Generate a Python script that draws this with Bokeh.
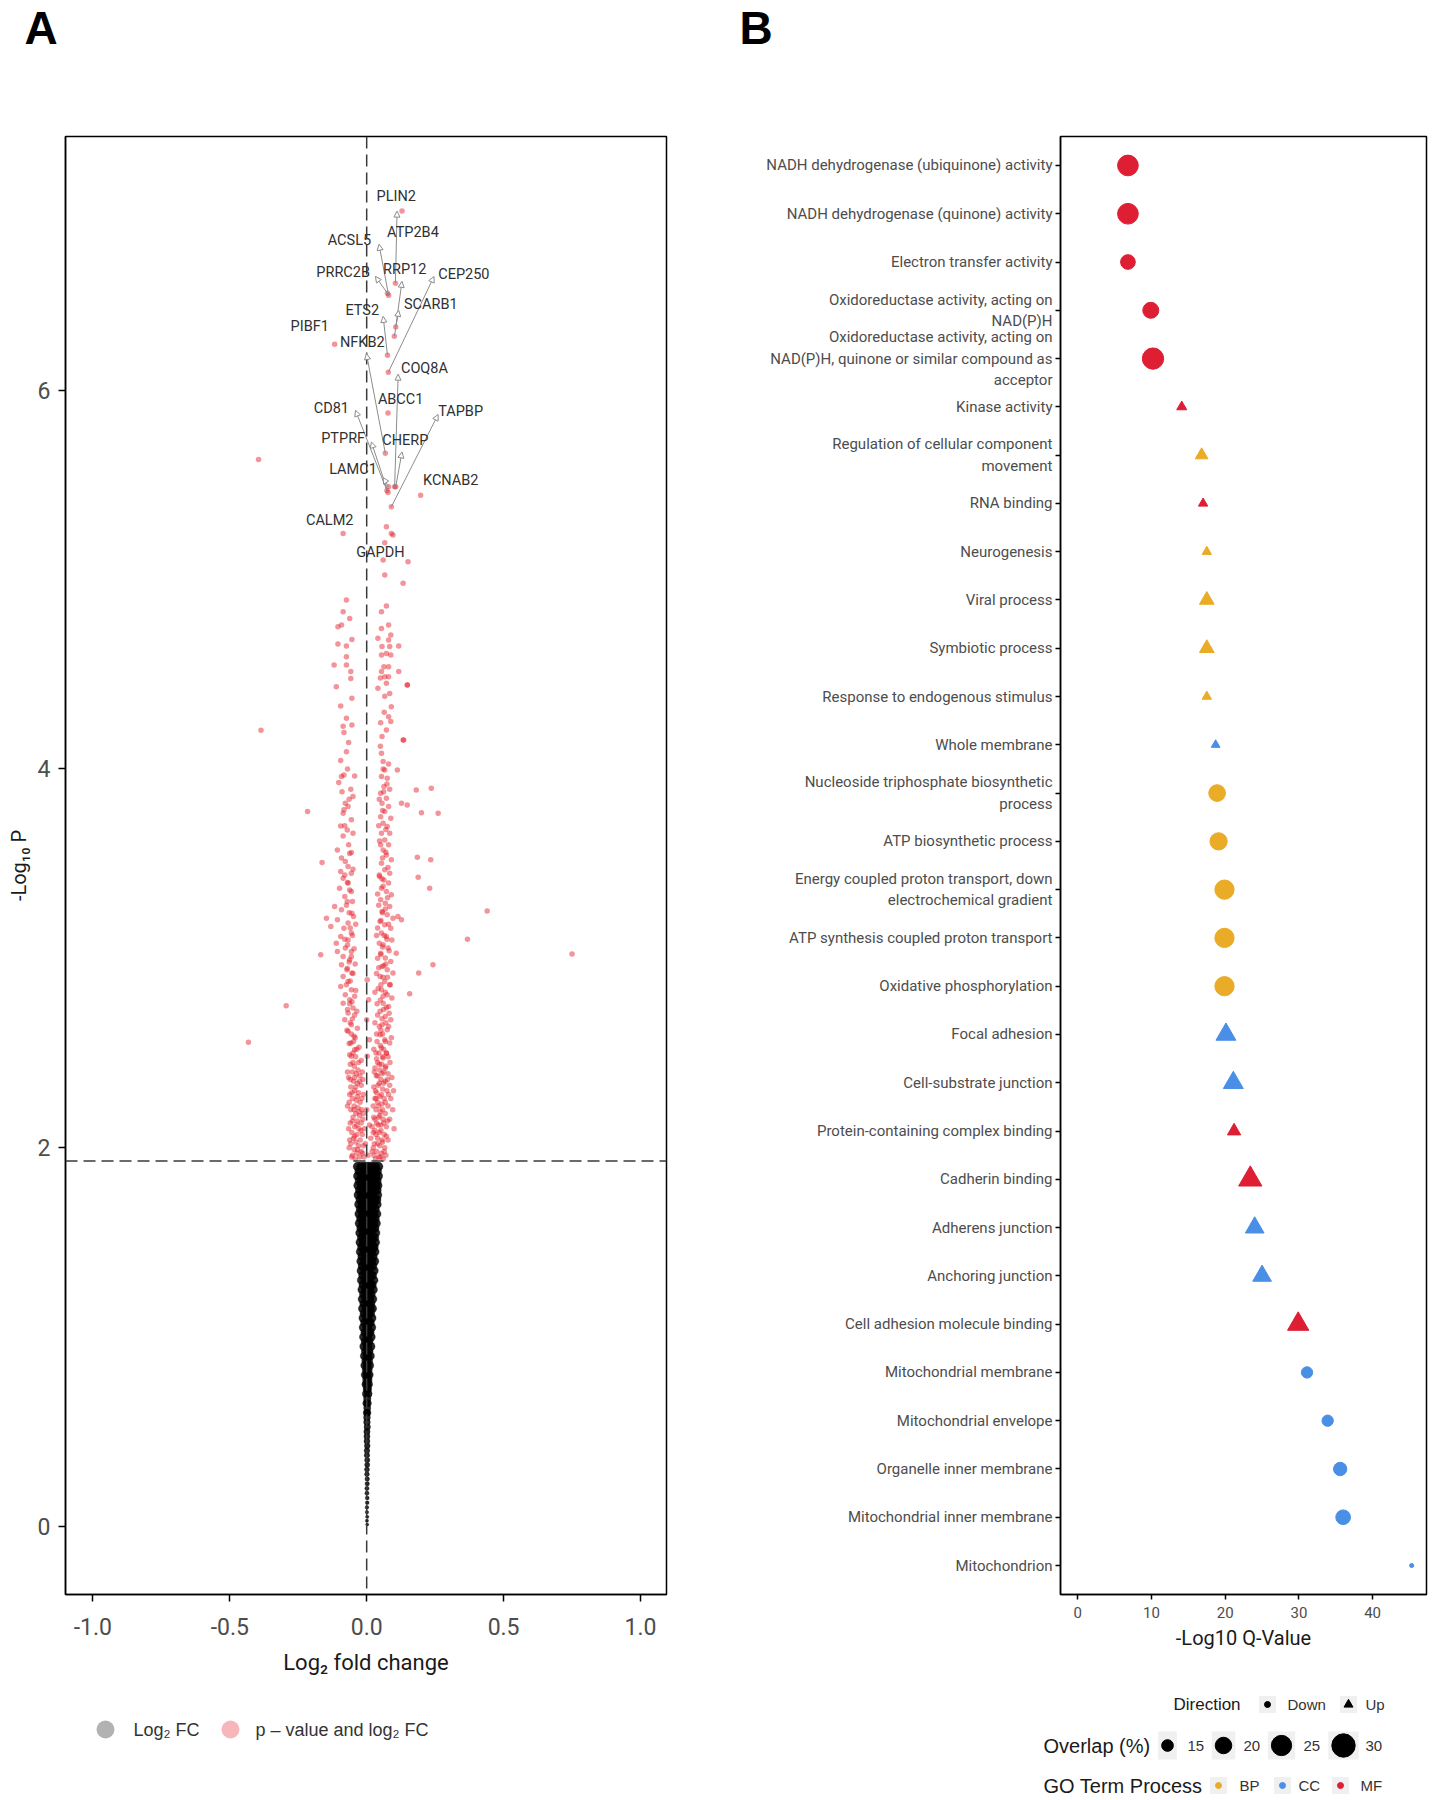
import numpy as np
from bokeh.plotting import figure
from bokeh.models import (Range1d, FactorRange, FixedTicker, NumeralTickFormatter, Span,
                          LabelSet, Arrow, NormalHead, ColumnDataSource)
from bokeh.layouts import row, column
from bokeh.embed import file_html
from bokeh.resources import INLINE
from bokeh.core.properties import value

NARROW = "Roboto"
SANS = "Liberation Sans"

# ------------------------------------------------------------------ Panel A data
p_cut = 1.93          # -log10 P threshold (dashed horizontal line)
fc_cut = 0.0          # dashed vertical line

# non-significant genes (black), listed row by row: (-log10 P, [log2 FC ...])
ns_rows = [
    (1.90, [-0.033, -0.020, -0.007, 0.006, 0.019, 0.031, 0.043]),
    (1.875, [-0.027, -0.013, 0.000, 0.013, 0.026, 0.038]),
    (1.85, [-0.032, -0.019, -0.006, 0.007, 0.020, 0.032, 0.042]),
    (1.825, [-0.026, -0.012, 0.001, 0.014, 0.027, 0.037]),
    (1.80, [-0.031, -0.018, -0.005, 0.008, 0.021, 0.033, 0.040]),
    (1.775, [-0.025, -0.011, 0.002, 0.015, 0.028, 0.037]),
    (1.75, [-0.030, -0.017, -0.004, 0.009, 0.022, 0.039]),
    (1.725, [-0.023, -0.010, 0.003, 0.016, 0.029, 0.036]),
    (1.70, [-0.028, -0.015, -0.002, 0.011, 0.024, 0.037]),
    (1.675, [-0.022, -0.009, 0.004, 0.017, 0.030]),
    (1.65, [-0.027, -0.014, -0.001, 0.012, 0.025, 0.036]),
    (1.625, [-0.021, -0.008, 0.005, 0.018, 0.030]),
    (1.60, [-0.026, -0.013, 0.000, 0.013, 0.025, 0.034]),
    (1.575, [-0.020, -0.007, 0.006, 0.019, 0.029]),
    (1.55, [-0.024, -0.011, 0.002, 0.015, 0.032]),
    (1.525, [-0.018, -0.005, 0.008, 0.020, 0.028]),
    (1.50, [-0.023, -0.010, 0.003, 0.016, 0.031]),
    (1.475, [-0.017, -0.004, 0.009, 0.021, 0.026]),
    (1.45, [-0.022, -0.009, 0.004, 0.017, 0.029]),
    (1.425, [-0.016, -0.003, 0.010, 0.022]),
    (1.40, [-0.020, -0.007, 0.006, 0.018, 0.028]),
    (1.375, [-0.015, -0.002, 0.011, 0.021]),
    (1.35, [-0.019, -0.006, 0.007, 0.026]),
    (1.325, [-0.013, 0.000, 0.013, 0.020]),
    (1.30, [-0.018, -0.005, 0.008, 0.025]),
    (1.275, [-0.012, 0.001, 0.014, 0.019]),
    (1.25, [-0.016, -0.003, 0.010, 0.023]),
    (1.225, [-0.010, 0.003, 0.015]),
    (1.20, [-0.015, -0.002, 0.010, 0.021]),
    (1.175, [-0.009, 0.004, 0.014]),
    (1.15, [-0.014, 0.000, 0.012, 0.020]),
    (1.125, [-0.008, 0.005, 0.013]),
    (1.10, [-0.012, 0.001, 0.018]),
    (1.075, [-0.006, 0.006, 0.012]),
    (1.05, [-0.011, 0.002, 0.017]),
    (1.025, [-0.005, 0.006, 0.011]),
    (1.00, [-0.010, 0.003, 0.015]),
    (0.975, [-0.004, 0.007]),
    (0.95, [-0.009, 0.003, 0.014]),
    (0.925, [-0.003, 0.007]),
    (0.90, [-0.007, 0.003, 0.012]),
    (0.875, [-0.002, 0.006]),
    (0.85, [-0.006, 0.002, 0.010]),
    (0.825, [-0.001, 0.005]),
    (0.80, [-0.005, 0.002, 0.009]),
    (0.775, [0.000, 0.005]),
    (0.75, [-0.003, 0.002, 0.007]),
    (0.725, [0.001, 0.004]),
    (0.70, [-0.002, 0.006]),
    (0.675, [0.002]),
    (0.65, [-0.001, 0.004]),
    (0.625, [0.002]),
    (0.60, [0.000, 0.003]),
    (0.575, [0.001]), (0.55, [0.001]), (0.525, [0.002]), (0.50, [0.001]),
    (0.475, [0.001]), (0.45, [0.001]), (0.425, [0.002]), (0.40, [0.001]),
    (0.375, [0.001]), (0.35, [0.002]), (0.325, [0.002]), (0.30, [0.001]),
    (0.275, [0.001]), (0.25, [0.002]), (0.225, [0.002]), (0.20, [0.001]),
    (0.175, [0.001]), (0.15, [0.002]), (0.125, [0.002]), (0.10, [0.001]),
    (0.075, [0.001]), (0.05, [0.002]), (0.03, [0.001]), (0.01, [0.002]),
]
ns_fc = [x for y, xs in ns_rows for x in xs]
ns_p = [y for y, xs in ns_rows for x in xs]

# significant genes (red): (log2 FC, -log10 P)
sig_points = [
    # upper cloud, left
    (-0.074, 4.892), (-0.086, 4.830), (-0.062, 4.795), (-0.105, 4.751), (-0.092, 4.760),
    (-0.054, 4.684), (-0.105, 4.660), (-0.074, 4.649), (-0.074, 4.593), (-0.119, 4.549),
    (-0.074, 4.549), (-0.058, 4.514), (-0.058, 4.478), (-0.111, 4.434), (-0.054, 4.373),
    (-0.095, 4.333), (-0.074, 4.267), (-0.086, 4.226), (-0.054, 4.232), (-0.083, 4.192),
    (-0.066, 4.139),
    # upper cloud, right
    (0.066, 5.024), (0.072, 4.860), (0.054, 4.830), (0.080, 4.760), (0.054, 4.742),
    (0.088, 4.707), (0.041, 4.690), (0.080, 4.681), (0.056, 4.646), (0.084, 4.646),
    (0.117, 4.649), (0.072, 4.610), (0.054, 4.602), (0.088, 4.602), (0.063, 4.540),
    (0.080, 4.540), (0.054, 4.514), (0.117, 4.514), (0.066, 4.487), (0.080, 4.487),
    (0.072, 4.452), (0.148, 4.443), (0.041, 4.426), (0.084, 4.399), (0.066, 4.384),
    (0.090, 4.329), (0.080, 4.276), (0.051, 4.244), (0.088, 4.250), (0.072, 4.206),
    (0.056, 4.171), (0.133, 4.153), (0.133, 4.980),
    # middle, left
    (-0.074, 4.091), (-0.095, 4.044), (-0.083, 3.968), (-0.092, 3.960), (-0.044, 3.963),
    (-0.102, 3.928), (-0.058, 3.893), (-0.050, 3.854), (-0.078, 3.819), (-0.083, 3.784),
    (-0.068, 3.801), (-0.086, 3.766), (-0.056, 3.731), (-0.095, 3.699), (-0.071, 3.678),
    (-0.050, 3.660), (-0.086, 3.646), (-0.107, 3.572), (-0.062, 3.554), (-0.056, 3.558),
    (-0.092, 3.529), (-0.078, 3.511), (-0.068, 3.485), (-0.095, 3.458), (-0.056, 3.449),
    # middle, right
    (0.054, 4.083), (0.060, 4.039), (0.080, 4.026), (0.066, 3.995), (0.112, 3.995),
    (0.054, 3.960), (0.075, 3.951), (0.063, 3.907), (0.084, 3.893), (0.051, 3.872),
    (0.072, 3.845), (0.056, 3.819), (0.080, 3.801), (0.066, 3.775), (0.051, 3.748),
    (0.088, 3.740), (0.060, 3.713), (0.075, 3.696), (0.054, 3.660), (0.084, 3.660),
    (0.066, 3.625), (0.051, 3.599), (0.080, 3.599), (0.060, 3.572), (0.072, 3.546),
    (0.090, 3.520), (0.054, 3.502), (0.066, 3.467), (0.084, 3.449), (0.148, 3.810),
    (0.127, 3.819),
    # lower, left
    (-0.086, 3.423), (-0.068, 3.397), (-0.099, 3.370), (-0.056, 3.353), (-0.080, 3.326),
    (-0.117, 3.274), (-0.071, 3.300), (-0.092, 3.256), (-0.054, 3.238), (-0.147, 3.212),
    (-0.107, 3.203), (-0.068, 3.186), (-0.131, 3.168), (-0.083, 3.159), (-0.056, 3.133),
    (-0.095, 3.115), (-0.068, 3.097), (-0.111, 3.080), (-0.078, 3.054), (-0.056, 3.036),
    (-0.107, 3.036), (-0.086, 3.010), (-0.062, 2.992), (-0.092, 2.966), (-0.071, 2.948),
    (-0.054, 2.922), (-0.086, 2.904), (-0.068, 2.878), (-0.095, 2.851), (-0.056, 2.834),
    (-0.078, 2.807), (-0.062, 2.781), (-0.086, 2.763), (-0.050, 2.737), (-0.068, 2.711),
    (-0.080, 2.675), (-0.056, 2.649), (-0.068, 2.614), (-0.046, 2.588), (-0.058, 2.553),
    (-0.044, 2.517), (-0.056, 2.482),
    (-0.050, 2.50), (-0.036, 2.52), (-0.064, 2.55), (-0.042, 2.58), (-0.072, 2.62),
    (-0.052, 2.68), (-0.036, 2.72), (-0.062, 2.76), (-0.044, 2.80), (-0.074, 2.86),
    (-0.050, 2.92), (-0.064, 2.98), (-0.046, 3.05), (-0.080, 3.10), (-0.060, 3.16),
    (-0.048, 3.22), (-0.074, 3.28), (-0.062, 3.36), (-0.080, 3.44), (-0.066, 3.60),
    (-0.080, 3.70), (-0.064, 3.84), (-0.090, 3.88), (-0.070, 4.00),
    (-0.028, 2.53), (-0.048, 2.56), (-0.056, 2.60), (-0.034, 2.63), (-0.060, 2.66),
    (-0.044, 2.70), (-0.070, 2.73), (-0.054, 2.77), (-0.040, 2.83), (-0.060, 2.88),
    (-0.072, 2.94), (-0.042, 2.97), (-0.056, 3.01), (-0.070, 3.07), (-0.052, 3.12),
    (-0.040, 3.18), (-0.064, 3.24), (-0.052, 3.30), (-0.070, 3.40), (-0.050, 3.47),
    # lower, right
    (0.047, 3.432), (0.063, 3.414), (0.080, 3.397), (0.054, 3.370), (0.072, 3.353),
    (0.090, 3.335), (0.051, 3.309), (0.068, 3.291), (0.084, 3.274), (0.056, 3.247),
    (0.075, 3.230), (0.096, 3.212), (0.049, 3.194), (0.066, 3.177), (0.088, 3.159),
    (0.114, 3.221), (0.127, 3.203), (0.054, 3.133), (0.072, 3.115), (0.092, 3.097),
    (0.060, 3.071), (0.078, 3.054), (0.051, 3.027), (0.108, 3.027), (0.068, 3.001),
    (0.088, 2.983), (0.056, 2.957), (0.075, 2.939), (0.096, 2.922), (0.049, 2.904),
    (0.066, 2.878), (0.084, 2.860), (0.054, 2.834), (0.075, 2.807), (0.092, 2.790),
    (0.060, 2.763), (0.080, 2.746), (0.049, 2.720), (0.068, 2.693), (0.088, 2.675),
    (0.056, 2.649), (0.075, 2.623), (0.049, 2.596), (0.066, 2.570), (0.084, 2.553),
    (0.054, 2.526), (0.072, 2.499), (0.060, 2.473),
    (0.045, 2.50), (0.062, 2.52), (0.078, 2.48), (0.038, 2.56), (0.058, 2.60),
    (0.090, 2.58), (0.046, 2.64), (0.070, 2.66), (0.040, 2.70), (0.062, 2.73),
    (0.082, 2.71), (0.050, 2.78), (0.068, 2.82), (0.042, 2.84), (0.086, 2.86),
    (0.060, 2.90), (0.044, 2.95), (0.070, 2.97), (0.052, 3.02), (0.082, 3.04),
    (0.046, 3.08), (0.064, 3.12), (0.040, 3.16), (0.080, 3.18), (0.058, 3.24),
    (0.044, 3.28), (0.076, 3.32), (0.060, 3.38), (0.046, 3.44), (0.078, 3.48),
    (0.058, 3.53), (0.047, 3.62), (0.070, 3.68), (0.058, 3.78), (0.046, 3.84),
    (0.074, 3.92), (0.060, 4.00), (0.050, 4.12), (0.064, 4.30), (0.050, 4.48),
    (0.072, 2.50), (0.026, 2.52), (0.050, 2.54), (0.068, 2.56), (0.036, 2.60),
    (0.052, 2.62), (0.080, 2.64), (0.030, 2.66), (0.056, 2.68), (0.072, 2.74),
    (0.038, 2.76), (0.060, 2.80), (0.030, 2.82), (0.052, 2.86), (0.076, 2.90),
    (0.036, 2.92), (0.062, 2.96), (0.040, 3.00), (0.058, 3.06), (0.074, 3.10),
    (0.036, 3.12), (0.052, 3.20), (0.068, 3.26), (0.040, 3.34), (0.056, 3.42),
    (0.070, 3.56), (0.044, 3.70), (0.062, 3.88),
    (0.002, 2.887), (0.007, 2.781), (0.000, 2.675), (0.010, 2.570), (0.002, 2.482),
    # dense band just above the threshold, left lobe
    (-0.060, 2.44), (-0.045, 2.43), (-0.030, 2.45), (-0.052, 2.40), (-0.038, 2.39),
    (-0.066, 2.37), (-0.025, 2.38), (-0.048, 2.35), (-0.034, 2.34), (-0.058, 2.32),
    (-0.020, 2.33), (-0.044, 2.30), (-0.030, 2.29), (-0.062, 2.28), (-0.052, 2.26),
    (-0.038, 2.25), (-0.024, 2.24), (-0.046, 2.22), (-0.032, 2.21), (-0.058, 2.20),
    (-0.018, 2.20), (-0.040, 2.18), (-0.026, 2.17), (-0.050, 2.16), (-0.034, 2.14),
    (-0.060, 2.13), (-0.020, 2.13), (-0.044, 2.11), (-0.028, 2.10), (-0.054, 2.08),
    (-0.036, 2.07), (-0.016, 2.07), (-0.048, 2.05), (-0.024, 2.04), (-0.040, 2.03),
    (-0.058, 2.02), (-0.030, 2.01), (-0.012, 2.01), (-0.046, 1.99), (-0.020, 1.98),
    (-0.036, 1.97), (-0.052, 1.96), (-0.026, 1.95), (-0.010, 1.95), (-0.042, 1.94),
    (-0.070, 2.22), (-0.066, 2.10), (-0.064, 2.00), (-0.014, 2.15), (-0.012, 2.28),
    (-0.016, 2.40), (-0.008, 2.10), (-0.070, 2.40),
    (-0.055, 1.95), (-0.033, 1.99), (-0.015, 1.97), (-0.062, 2.04), (-0.044, 2.06),
    (-0.021, 2.09), (-0.036, 2.12), (-0.052, 2.14), (-0.012, 2.18), (-0.028, 2.19),
    (-0.046, 2.20), (-0.064, 2.24), (-0.034, 2.27), (-0.018, 2.26), (-0.054, 2.29),
    (-0.040, 2.32), (-0.026, 2.35), (-0.060, 2.36), (-0.044, 2.37), (-0.014, 2.36),
    (-0.032, 2.41), (-0.050, 2.45), (-0.020, 2.46), (-0.040, 2.48), (-0.062, 2.49),
    # dense band, right lobe
    (0.040, 2.45), (0.055, 2.44), (0.070, 2.43), (0.085, 2.45), (0.048, 2.41),
    (0.062, 2.40), (0.078, 2.39), (0.035, 2.38), (0.092, 2.37), (0.052, 2.36),
    (0.068, 2.35), (0.042, 2.33), (0.084, 2.33), (0.058, 2.31), (0.074, 2.30),
    (0.036, 2.29), (0.048, 2.27), (0.064, 2.26), (0.088, 2.26), (0.040, 2.24),
    (0.056, 2.23), (0.078, 2.22), (0.034, 2.20), (0.050, 2.19), (0.068, 2.18),
    (0.044, 2.16), (0.060, 2.15), (0.084, 2.15), (0.036, 2.13), (0.052, 2.12),
    (0.072, 2.11), (0.030, 2.09), (0.046, 2.08), (0.064, 2.07), (0.040, 2.05),
    (0.056, 2.04), (0.078, 2.04), (0.028, 2.02), (0.048, 2.01), (0.066, 2.00),
    (0.036, 1.98), (0.054, 1.97), (0.026, 1.96), (0.044, 1.95), (0.060, 1.94),
    (0.070, 1.96), (0.020, 1.98), (0.015, 2.05), (0.010, 2.12), (-0.005, 2.02),
    (0.000, 2.20), (0.005, 1.96),
    (0.030, 2.42), (0.032, 2.30), (0.026, 2.16), (0.024, 2.08), (0.030, 2.26),
    (0.095, 2.20), (0.098, 2.30), (0.100, 2.10), (0.034, 2.50),
    (0.032, 1.94), (0.050, 1.95), (0.064, 1.98), (0.024, 2.00), (0.040, 2.02),
    (0.058, 2.03), (0.072, 2.06), (0.034, 2.07), (0.052, 2.09), (0.020, 2.11),
    (0.042, 2.12), (0.062, 2.13), (0.076, 2.14), (0.030, 2.15), (0.048, 2.17),
    (0.058, 2.20), (0.024, 2.22), (0.044, 2.22), (0.068, 2.24), (0.080, 2.28),
    (0.034, 2.26), (0.054, 2.28), (0.026, 2.32), (0.046, 2.34), (0.062, 2.34),
    (0.076, 2.36), (0.040, 2.38), (0.056, 2.39), (0.028, 2.40), (0.068, 2.42),
    (0.046, 2.44), (0.036, 2.47), (0.058, 2.48),
    # near GAPDH
    (0.072, 5.279), (0.090, 5.244), (0.096, 5.235), (0.060, 5.103), (0.151, 5.094),
    # outliers
    (-0.395, 5.634), (-0.386, 4.204), (0.750, 3.022), (0.440, 3.250), (0.368, 3.100),
    (-0.432, 2.556), (-0.294, 2.749), (-0.216, 3.775), (0.261, 3.766), (0.236, 3.898),
    (0.181, 3.889), (0.200, 3.769), (-0.163, 3.506), (0.185, 3.534), (0.234, 3.520),
    (0.188, 3.428), (0.230, 3.370), (-0.168, 3.018), (0.242, 2.966), (0.190, 2.922),
    (0.157, 2.813), (0.149, 4.443), (0.135, 4.153),
]

# labelled genes: name, log2 FC, -log10 P
genes = ["PLIN2", "ATP2B4", "ACSL5", "PRRC2B", "RRP12", "CEP250", "SCARB1", "ETS2", "PIBF1",
         "NFKB2", "COQ8A", "ABCC1", "CD81", "TAPBP", "PTPRF", "CHERP", "LAMC1", "KCNAB2",
         "CALM2", "GAPDH"]
gene_fc = [0.105, 0.129, 0.080, 0.076, 0.106, 0.079, 0.101, 0.076, -0.117, 0.068, 0.102,
           0.078, 0.074, 0.090, 0.078, 0.106, 0.080, 0.197, -0.086, 0.066]
gene_p = [6.565, 6.946, 6.502, 6.512, 6.334, 6.095, 6.285, 6.185, 6.243, 5.667, 5.490,
          5.880, 5.470, 5.384, 5.460, 5.490, 5.490, 5.446, 5.244, 5.194]
# repelled label placement (text centre) and connector end (None = no connector)
label_xy = [(0.108, 7.024), (0.169, 6.835), (-0.063, 6.792), (-0.086, 6.624), (0.139, 6.637),
            (0.355, 6.612), (0.234, 6.454), (-0.016, 6.422), (-0.208, 6.334), (-0.016, 6.252),
            (0.211, 6.116), (0.124, 5.951), (-0.129, 5.903), (0.343, 5.886), (-0.086, 5.745),
            (0.141, 5.736), (-0.050, 5.582), (0.307, 5.525), (-0.135, 5.314), (0.050, 5.141)]
connector_tip = [(0.111, 6.946), None, (0.045, 6.771), (0.032, 6.601), (0.129, 6.575),
                 (0.246, 6.601), (0.117, 6.422), (0.060, 6.390), None, (-0.001, 6.194),
                 (0.115, 6.085), None, (-0.041, 5.894), (0.261, 5.872), (0.017, 5.727),
                 (0.129, 5.674), (0.060, 5.539), None, None, None]

# ------------------------------------------------------------------ Panel B data
terms = [
    "NADH dehydrogenase (ubiquinone) activity",
    "NADH dehydrogenase (quinone) activity",
    "Electron transfer activity",
    "Oxidoreductase activity, acting on\nNAD(P)H",
    "Oxidoreductase activity, acting on\nNAD(P)H, quinone or similar compound as\nacceptor",
    "Kinase activity",
    "Regulation of cellular component\nmovement",
    "RNA binding",
    "Neurogenesis",
    "Viral process",
    "Symbiotic process",
    "Response to endogenous stimulus",
    "Whole membrane",
    "Nucleoside triphosphate biosynthetic\nprocess",
    "ATP biosynthetic process",
    "Energy coupled proton transport, down\nelectrochemical gradient",
    "ATP synthesis coupled proton transport",
    "Oxidative phosphorylation",
    "Focal adhesion",
    "Cell-substrate junction",
    "Protein-containing complex binding",
    "Cadherin binding",
    "Adherens junction",
    "Anchoring junction",
    "Cell adhesion molecule binding",
    "Mitochondrial membrane",
    "Mitochondrial envelope",
    "Organelle inner membrane",
    "Mitochondrial inner membrane",
    "Mitochondrion",
]
neg_log10_q = [6.8, 6.8, 6.8, 9.9, 10.2, 14.1, 16.8, 17.0, 17.5, 17.5, 17.5, 17.5, 18.7, 18.9,
               19.1, 19.9, 19.9, 19.9, 20.1, 21.1, 21.2, 23.4, 24.0, 25.0, 29.9, 31.1, 33.9,
               35.6, 36.0, 45.3]
overlap_pct = [25.7, 25.7, 17.9, 19.4, 26.6, 13.7, 15.9, 13.2, 13.2, 17.9, 17.9, 13.2, 12.8,
               20.2, 20.9, 23.6, 23.6, 23.6, 24.6, 24.6, 16.5, 29.8, 22.8, 22.8, 26.6, 14.7,
               14.7, 16.5, 17.9, 10.6]
direction = ["Down"] * 5 + ["Up"] * 8 + ["Down"] * 5 + ["Up"] * 7 + ["Down"] * 5
go_process = ["MF"] * 6 + ["BP", "MF", "BP", "BP", "BP", "BP", "CC"] + ["BP"] * 5 + \
             ["CC", "CC", "MF", "MF", "CC", "CC", "MF"] + ["CC"] * 5
overlap_breaks = [15, 20, 25, 30]
direction_levels = ["Down", "Up"]
process_levels = ["BP", "CC", "MF"]

# ------------------------------------------------------------------ styles
process_color = {"BP": "#EAAB26", "CC": "#4A8FE6", "MF": "#DD1E33"}
direction_marker = {"Down": "circle", "Up": "triangle"}


def overlap_size(ov):
    return 5.23 * np.sqrt(max(ov - 10.0, 0.4))


def blank_canvas(w, h):
    f = figure(width=w, height=h, x_range=Range1d(0, w), y_range=Range1d(h, 0),
               x_axis_type=None, y_axis_type=None, output_backend="svg",
               toolbar_location=None, min_border=0, outline_line_color=None)
    f.grid.visible = False
    f.background_fill_color = "white"
    f.border_fill_color = "white"
    return f


def style_axes(p, tick_font_px, label_font_px, font):
    for ax in (p.xaxis[0], p.yaxis[0]):
        ax.major_label_text_font = font
        ax.major_label_text_font_size = f"{tick_font_px}px"
        ax.major_label_text_color = "#4d4d4d"
        ax.axis_label_text_font = font
        ax.axis_label_text_font_size = f"{label_font_px}px"
        ax.axis_label_text_font_style = "normal"
        ax.axis_label_text_color = "#1a1a1a"
        ax.major_tick_in = 0
        ax.major_tick_out = 7
        ax.major_tick_line_color = "black"
        ax.major_tick_line_width = 1.5
        ax.minor_tick_line_color = None
        ax.axis_line_color = "black"
        ax.axis_line_width = 1.5


# ------------------------------------------------------------------ header (panel letters)
head = blank_canvas(1432, 60)
head.text([24, 739], [1, 1], text=["A", "B"], text_baseline="top", text_align="left",
          text_font=value(SANS), text_font_size="46px", text_font_style="bold",
          text_color="black")

# ------------------------------------------------------------------ Panel A
pA = figure(width=708, height=1628, x_range=Range1d(-1.1, 1.095), y_range=Range1d(-0.36, 7.34),
            output_backend="svg", toolbar_location=None,
            min_border_left=65, min_border_right=42, min_border_top=76, min_border_bottom=92)
pA.grid.visible = False
pA.outline_line_color = "black"
pA.outline_line_width = 1.5
pA.background_fill_color = "white"
pA.border_fill_color = "white"
style_axes(pA, 23, 22, NARROW)
pA.xaxis.ticker = FixedTicker(ticks=[-1.0, -0.5, 0.0, 0.5, 1.0])
pA.xaxis.formatter = NumeralTickFormatter(format="0.0")
pA.yaxis.ticker = FixedTicker(ticks=[0, 2, 4, 6])
pA.xaxis.axis_label = "Log₂ fold change"
pA.yaxis.axis_label = "-Log₁₀ P"
pA.xaxis.major_label_standoff = 16
pA.xaxis.axis_label_standoff = 12
pA.yaxis.major_label_standoff = 8
pA.yaxis.axis_label_standoff = 4
pA.yaxis.axis_label_text_font_size = "20px"

ns_size = [3.0 + 6.0 * min(1.0, y / 0.9) for y in ns_p]
pA.scatter(ns_fc, ns_p, size=ns_size, fill_color="black", fill_alpha=0.85,
           line_color="black", line_alpha=0.6, line_width=0.5)
sig_fc = [pt[0] for pt in sig_points] + gene_fc
sig_p = [pt[1] for pt in sig_points] + gene_p
pA.scatter(sig_fc, sig_p, size=5.5, fill_color="#E3121C", fill_alpha=0.45, line_color=None)

pA.add_layout(Span(location=fc_cut, dimension="height", line_dash="12 6",
                   line_color="#3a3a3a", line_width=1.5))
pA.add_layout(Span(location=p_cut, dimension="width", line_dash="12 6",
                   line_color="#3a3a3a", line_width=1.5))

conn = [(fc, pv, tip) for fc, pv, tip in zip(gene_fc, gene_p, connector_tip) if tip is not None]
arrow_src = ColumnDataSource(dict(
    xs=[c[0] for c in conn], ys=[c[1] for c in conn],
    xe=[c[2][0] for c in conn], ye=[c[2][1] for c in conn]))
pA.add_layout(Arrow(x_start="xs", y_start="ys", x_end="xe", y_end="ye", source=arrow_src,
                    line_color="#8c8c8c", line_width=1,
                    end=NormalHead(size=6, fill_color="white", line_color="#8c8c8c", line_width=1)))
lab_src = ColumnDataSource(dict(x=[l[0] for l in label_xy], y=[l[1] for l in label_xy], t=genes))
pA.add_layout(LabelSet(x="x", y="y", text="t", source=lab_src, text_align="center",
                       text_baseline="middle", text_font=value(NARROW),
                       text_font_size="14.5px", text_color="#303030"))

# ------------------------------------------------------------------ Panel B
srcB = ColumnDataSource(dict(
    term=terms, q=neg_log10_q, ov=overlap_pct,
    size=[overlap_size(o) for o in overlap_pct],
    marker=[direction_marker[d] for d in direction],
    color=[process_color[g] for g in go_process]))

pB = figure(width=724, height=1628, x_range=Range1d(-2.35, 47.31),
            y_range=FactorRange(factors=list(reversed(terms)), range_padding=0.2 / 30,
                                range_padding_units="percent"),
            output_backend="svg", toolbar_location=None,
            min_border_left=352, min_border_right=6, min_border_top=70, min_border_bottom=94)
pB.grid.visible = False
pB.outline_line_color = "black"
pB.outline_line_width = 1.5
pB.background_fill_color = "white"
pB.border_fill_color = "white"
style_axes(pB, 15, 20, NARROW)
pB.yaxis.major_label_text_font_size = "15px"
pB.yaxis.major_tick_out = 5
pB.yaxis.major_label_standoff = 3
pB.xaxis.ticker = FixedTicker(ticks=[0, 10, 20, 30, 40])
pB.xaxis.axis_label = "-Log10 Q-Value"
pB.xaxis.major_tick_out = 5
pB.xaxis.major_label_standoff = 7
pB.xaxis.axis_label_standoff = 5
pB.scatter(x="q", y="term", size="size", marker="marker", fill_color="color",
           line_color="color", source=srcB)

# ------------------------------------------------------------------ legends
legA = blank_canvas(708, 112)
legA.scatter([105, 230], [41, 41], size=18, fill_color=["black", "#E3121C"],
             fill_alpha=[0.3, 0.3], line_color=None)
legA.text([133, 255], [41, 41], text=["Log₂ FC", "p – value and log₂ FC"],
          text_baseline="middle", text_align="left", text_font=value(SANS),
          text_font_size="18px", text_color="#333333")

legB = blank_canvas(724, 112)
legB.text([465, 335, 335], [16, 57, 97], text=["Direction", "Overlap (%)", "GO Term Process"],
          text_baseline="middle", text_align="left", text_font=value(SANS),
          text_font_size=["17px", "20px", "20px"], text_color="#1a1a1a")
dir_x = [559, 640]
legB.rect(dir_x, [16, 16], width=17, height=17, fill_color="#f0f0f0", line_color=None)
legB.scatter(dir_x, [16, 16], size=[6, 9], marker=[direction_marker[d] for d in direction_levels],
             fill_color="black", line_color="black")
legB.text([579, 657], [16, 16], text=direction_levels, text_baseline="middle",
          text_font=value(SANS), text_font_size="15px", text_color="#333333")
ov_x = [459, 515, 573, 635]
ov_sizes = [overlap_size(b) for b in overlap_breaks]
legB.rect(ov_x, [57] * 4, width=[s + 7 for s in ov_sizes], height=28,
          fill_color="#f0f0f0", line_color=None)
legB.scatter(ov_x, [57] * 4, size=ov_sizes, fill_color="black", line_color="black")
legB.text([479, 535, 595, 657], [57] * 4, text=[str(b) for b in overlap_breaks],
          text_baseline="middle", text_font=value(SANS), text_font_size="15px",
          text_color="#333333")
go_x = [510, 574, 632]
legB.rect(go_x, [97] * 3, width=17, height=17, fill_color="#f0f0f0", line_color=None)
legB.scatter(go_x, [97] * 3, size=6, fill_color=[process_color[g] for g in process_levels],
             line_color=[process_color[g] for g in process_levels])
legB.text([531, 590, 652], [97] * 3, text=process_levels, text_baseline="middle",
          text_font=value(SANS), text_font_size="15px", text_color="#333333")

layout = column(head, row(pA, pB), row(legA, legB))
open("out.html", "w").write(file_html(layout, INLINE))
